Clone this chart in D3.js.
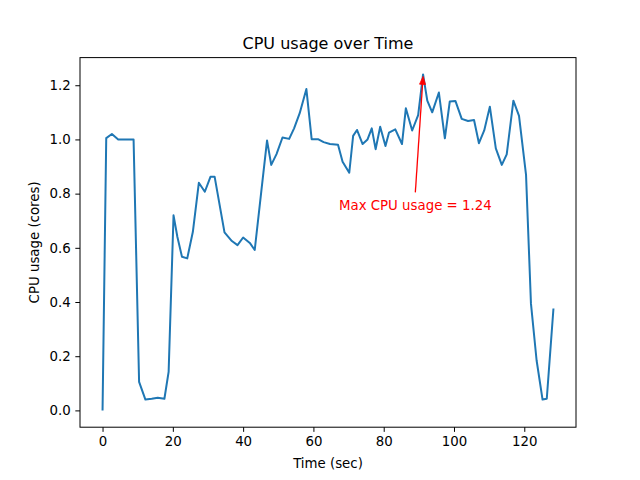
<!DOCTYPE html>
<html>
<head>
<meta charset="utf-8">
<script src="https://cdn.jsdelivr.net/npm/d3@7"></script>
<style>
  html, body { margin: 0; padding: 0; background: #fff; }
  svg { display: block; font-family: "DejaVu Sans", sans-serif; }
</style>
</head>
<body>
<svg id="chart" width="640" height="480"></svg>
<script>
const timeSec = [0, 1.05, 2.66, 4.46, 6.2, 7.6, 8.83, 10.4, 12.2, 14.0, 15.7, 17.6, 18.8, 20.2,
  21.3, 22.6, 24.1, 25.7, 27.4, 29.1, 30.7, 31.9, 34.7, 36.8, 38.4, 40.0, 41.9, 43.3,
  45.1, 46.8, 48.0, 49.5, 51.2, 53.1, 54.5, 56.1, 58.0, 59.5, 61.3, 62.9, 64.7, 67.0,
  68.3, 70.2, 71.3, 72.4, 74.0, 75.4, 76.6, 77.7, 79.0, 80.5, 81.5, 83.3, 85.2, 86.3,
  88.1, 89.8, 91.2, 92.4, 93.8, 95.7, 97.4, 98.8, 100.4, 102.2, 104.0, 105.7, 107.1, 108.6,
  110.2, 111.9, 113.6, 115.0, 116.9, 118.5, 120.5, 121.9, 123.5, 125.2, 126.4, 128.3];
const cpuCores = [0, 1.005, 1.02, 1.0, 1.0, 1.0, 1.0, 0.105, 0.04, 0.043, 0.047, 0.043, 0.142, 0.72,
  0.64, 0.567, 0.561, 0.659, 0.84, 0.807, 0.862, 0.862, 0.657, 0.625, 0.61, 0.638, 0.618, 0.592,
  0.80, 0.996, 0.906, 0.946, 1.007, 1.002, 1.041, 1.097, 1.186, 1.001, 1.001, 0.99, 0.983, 0.98,
  0.918, 0.877, 1.013, 1.035, 0.983, 1.0, 1.041, 0.964, 1.047, 0.976, 1.025, 1.037, 0.983, 1.115,
  1.033, 1.09, 1.24, 1.143, 1.1, 1.173, 1.004, 1.14, 1.142, 1.076, 1.068, 1.072, 0.986, 1.033,
  1.121, 0.967, 0.906, 0.945, 1.143, 1.087, 0.869, 0.394, 0.185, 0.04, 0.043, 0.376];
const xTicks = [0, 20, 40, 60, 80, 100, 120];
const yTicks = [0.0, 0.2, 0.4, 0.6, 0.8, 1.0, 1.2];
const titleText = "CPU usage over Time";
const xLabel = "Time (sec)";
const yLabel = "CPU usage (cores)";

const data = timeSec.map((t, i) => ({t, v: cpuCores[i]}));

const W = 640, H = 480;
const m = {left: 80, right: 576, top: 57.6, bottom: 427.2};
const svg = d3.select("#chart");

const [tMin, tMax] = d3.extent(timeSec);
const [vMin, vMax] = d3.extent(cpuCores);
const tPad = (tMax - tMin) * 0.05, vPad = (vMax - vMin) * 0.05;
const x = d3.scaleLinear().domain([tMin - tPad, tMax + tPad]).range([m.left, m.right]);
const y = d3.scaleLinear().domain([vMin - vPad, vMax + vPad]).range([m.bottom, m.top]);

// line
const line = d3.line().x(d => x(d.t)).y(d => y(d.v));
svg.append("path").datum(data)
  .attr("d", line)
  .attr("fill", "none")
  .attr("stroke", "#1f77b4")
  .attr("stroke-width", 2)
  .attr("stroke-linejoin", "round")
  .attr("stroke-linecap", "butt");

// frame
svg.append("rect")
  .attr("x", m.left).attr("y", m.top)
  .attr("width", m.right - m.left).attr("height", m.bottom - m.top)
  .attr("fill", "none").attr("stroke", "#000").attr("stroke-width", 1);

// axes
const xAxis = d3.axisBottom(x).tickValues(xTicks).tickFormat(d3.format("d")).tickSizeInner(4.67).tickSizeOuter(0).tickPadding(4.67);
const yAxis = d3.axisLeft(y).tickValues(yTicks).tickFormat(d3.format(".1f")).tickSizeInner(4.67).tickSizeOuter(0).tickPadding(4.67);

const gx = svg.append("g").attr("transform", `translate(0,${m.bottom})`).call(xAxis);
const gy = svg.append("g").attr("transform", `translate(${m.left},0)`).call(yAxis);
[gx, gy].forEach(g => {
  g.select(".domain").remove();
  g.selectAll("line").attr("stroke", "#000").attr("stroke-width", 1);
  g.selectAll("text").attr("font-family", "DejaVu Sans, sans-serif").attr("font-size", "13.33px").attr("fill", "#000");
});

// title & labels
svg.append("text").attr("x", (m.left + m.right) / 2).attr("y", 49)
  .attr("text-anchor", "middle").attr("font-size", "16px").attr("fill", "#000").text(titleText);
svg.append("text").attr("x", (m.left + m.right) / 2).attr("y", 468)
  .attr("text-anchor", "middle").attr("font-size", "13.33px").attr("fill", "#000").text(xLabel);
svg.append("text")
  .attr("transform", `translate(39,${(m.top + m.bottom) / 2}) rotate(-90)`)
  .attr("text-anchor", "middle").attr("font-size", "13.33px").attr("fill", "#000").text(yLabel);

// annotation of max
const maxIdx = d3.maxIndex(cpuCores);
const maxT = timeSec[maxIdx], maxV = cpuCores[maxIdx];
const textT = maxT - 2.2, textV = 0.74;
const tx = x(textT), ty = y(textV);
svg.append("text").attr("x", tx).attr("y", ty)
  .attr("text-anchor", "middle").attr("font-size", "13.33px").attr("fill", "red")
  .text(`Max CPU usage = ${maxV.toFixed(2)}`);

const x0 = tx, y0 = ty - 17.5;
const x1 = x(maxT), y1 = y(maxV) + 2;
const ang = Math.atan2(y1 - y0, x1 - x0);
const headL = 8, headW = 3;
const bx = x1 - headL * Math.cos(ang), by = y1 - headL * Math.sin(ang);
svg.append("line").attr("x1", x0).attr("y1", y0).attr("x2", bx).attr("y2", by)
  .attr("stroke", "red").attr("stroke-width", 1.3);
const px = -Math.sin(ang), py = Math.cos(ang);
svg.append("path")
  .attr("d", `M${x1},${y1}L${bx + px * headW},${by + py * headW}L${bx - px * headW},${by - py * headW}Z`)
  .attr("fill", "red").attr("stroke", "red").attr("stroke-width", 0.8);
</script>
</body>
</html>
